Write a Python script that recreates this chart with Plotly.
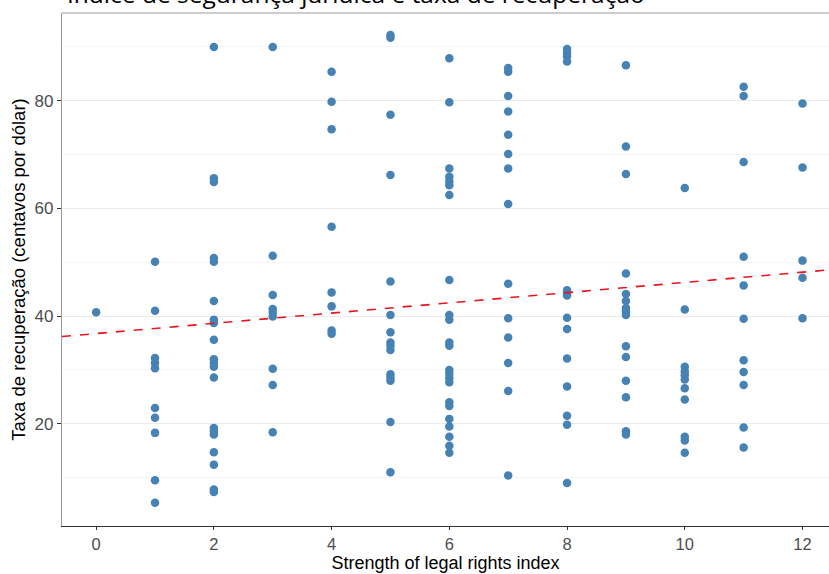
import plotly.graph_objects as go

title_text = "Índice de segurança jurídica e taxa de recuperação"
x_title = "Strength of legal rights index"
y_title = "Taxa de recuperação (centavos por dólar)"

idx_0 = [40.7]
idx_1 = [50.1, 41.0, 32.2, 31.3, 30.3, 22.9, 21.1, 18.3, 9.5, 5.3]
idx_2 = [90.0, 65.6, 64.9, 50.8, 50.1, 42.8, 39.3, 38.7, 35.6, 32.0, 31.3, 30.6, 28.6,
         19.2, 18.6, 18.0, 14.7, 12.4, 7.8, 7.3]
idx_3 = [90.0, 51.2, 43.9, 41.3, 40.7, 39.9, 30.2, 27.2, 18.4]
idx_4 = [85.4, 79.8, 74.7, 56.6, 44.4, 41.8, 37.3, 36.7]
idx_5 = [92.2, 91.7, 77.4, 66.2, 46.4, 40.2, 37.0, 35.1, 34.5, 33.7, 29.2, 28.6, 28.0, 20.3, 11.0]
idx_6 = [87.9, 79.7, 67.4, 65.9, 65.0, 64.3, 62.5, 46.7, 40.2, 39.3, 35.1, 34.5, 30.0, 29.3,
         28.5, 27.7, 24.0, 23.3, 20.9, 19.5, 17.6, 15.9, 14.6]
idx_7 = [86.1, 85.4, 80.9, 78.0, 73.7, 70.1, 67.4, 60.8, 46.0, 39.6, 36.0, 31.3, 26.1, 10.4]
idx_8 = [89.6, 88.9, 88.2, 87.3, 44.8, 44.2, 43.8, 39.7, 37.6, 32.1, 26.9, 21.5, 19.8, 9.0]
idx_9 = [86.6, 71.5, 66.4, 47.9, 44.1, 42.8, 41.5, 40.9, 40.2, 34.4, 32.4, 28.0, 24.9, 18.6, 18.0]
idx_10 = [63.8, 41.2, 30.6, 29.7, 29.0, 28.2, 26.6, 24.5, 17.6, 16.9, 14.6]
idx_11 = [82.6, 80.9, 68.6, 51.0, 45.7, 39.5, 31.8, 29.6, 27.2, 19.3, 15.6]
idx_12 = [79.5, 67.6, 50.3, 47.1, 39.6]

groups = [idx_0, idx_1, idx_2, idx_3, idx_4, idx_5, idx_6, idx_7, idx_8, idx_9, idx_10, idx_11, idx_12]

fit_intercept = 36.75
fit_slope = 0.95
x_range = [-0.58, 12.45]
y_range = [1.0, 96.3]
x_ticks = [0, 2, 4, 6, 8, 10, 12]
y_ticks = [20, 40, 60, 80]

xs, ys = [], []
for i, g in enumerate(groups):
    xs += [i] * len(g)
    ys += g

fig = go.Figure()
fig.add_trace(go.Scatter(
    x=xs, y=ys, mode="markers",
    marker=dict(color="#4682B4", size=8.5, line=dict(width=0)),
    showlegend=False, hoverinfo="x+y"))
fig.add_trace(go.Scatter(
    x=x_range, y=[fit_intercept + fit_slope * v for v in x_range],
    mode="lines", line=dict(color="#e8141e", width=1.6, dash="dash"),
    showlegend=False, hoverinfo="skip"))

fig.update_layout(
    width=829, height=574,
    margin=dict(l=62, r=0, t=13, b=48),
    paper_bgcolor="white", plot_bgcolor="white",
    font=dict(family="Liberation Sans, Arial, sans-serif", color="#000000"),
    annotations=[dict(text=title_text, xref="paper", yref="paper", x=0.004, y=1,
                      xanchor="left", yanchor="middle", yshift=20, showarrow=False,
                      font=dict(size=24.5, color="#000000", family="Open Sans, sans-serif"))],
    xaxis=dict(range=x_range, tickvals=x_ticks, showgrid=False, zeroline=False,
               showline=True, linecolor="#333333", linewidth=1,
               ticks="outside", ticklen=3, tickcolor="#333333",
               tickfont=dict(size=16.5, color="#4d4d4d"),
               title=dict(text=x_title, font=dict(size=18, color="#000000"), standoff=3)),
    yaxis=dict(range=y_range, tickvals=y_ticks, showgrid=True, gridcolor="#ebebeb", gridwidth=1,
               minor=dict(tickvals=[10, 30, 50, 70, 90], showgrid=True, gridcolor="#f4f4f4", gridwidth=0.8),
               zeroline=False, showline=True, linecolor="#9a9a9a", linewidth=1.2,
               ticks="outside", ticklen=4, tickcolor="#333333",
               tickfont=dict(size=17, color="#4d4d4d"),
               title=dict(text=y_title, font=dict(size=18.5, color="#000000"), standoff=4)),
    shapes=[dict(type="line", xref="paper", yref="paper", x0=0, x1=1, y0=1, y1=1,
                 line=dict(color="#9a9a9a", width=1.2))],
)

fig.write_html("out.html", config={"displayModeBar": False},
               post_script="document.body.style.margin='0';")
